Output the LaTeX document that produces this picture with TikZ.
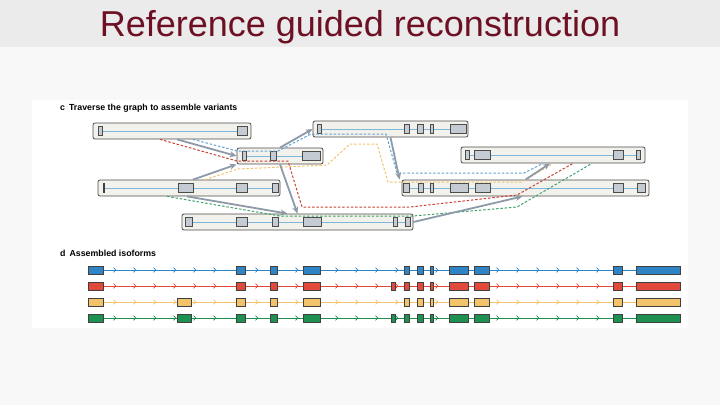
\documentclass[tikz,border=0pt]{standalone}
\usepackage{fontspec}
\setmainfont{Liberation Sans}
\usetikzlibrary{arrows.meta}
\definecolor{titlered}{HTML}{6E1023}
\definecolor{barbg}{HTML}{EBEBEB}
\definecolor{pagebg}{HTML}{F8F8F8}
\definecolor{boxbg}{HTML}{F3F1EC}
\definecolor{exgray}{HTML}{C4CBD3}
\definecolor{rail}{HTML}{7DB8DA}
\definecolor{pathgray}{HTML}{8E9AA7}
\definecolor{isoblue}{HTML}{2F84C5}
\definecolor{isored}{HTML}{E14A3A}
\definecolor{isoyel}{HTML}{F3C36C}
\definecolor{isogrn}{HTML}{1E9152}
\newcommand{\gexon}[3]{\draw[gex] ({#1},{#3-4.5}) rectangle ({#2},{#3+4.5});}
\newcommand{\iexon}[4]{\draw[iex, fill=#4] ({#1},{#3-4}) rectangle ({#2},{#3+4});}
\newcommand{\chev}[3]{\draw[#3, line width=0.7pt] ({#1-1.5},{#2-2.3}) -- ({#1+1},{#2}) -- ({#1-1.5},{#2+2.3});}

\begin{document}
\begin{tikzpicture}[x=1pt, y=-1pt,
  gbox/.style={draw=black!70, fill=boxbg, rounded corners=2pt, line width=0.8pt,
               minimum height=16pt, inner sep=0pt},
  gex/.style={draw=black!70, fill=exgray, line width=0.6pt},
  iex/.style={draw=black!75, line width=0.6pt},
  arr/.style={-{Stealth[length=7pt, width=6pt]}, line width=1.8pt, draw=pathgray},
  route/.style={dashed, dash pattern=on 2.5pt off 1.8pt, line width=1pt},
  lab/.style={font=\bfseries\fontsize{8.8}{10}\selectfont, anchor=base west, inner sep=0pt}
]
\useasboundingbox (0,0) rectangle (720,405);
\fill[barbg] (0,0) rectangle (720,47);
\fill[pagebg] (0,47) rectangle (720,405);
\fill[white] (32,100) rectangle (688,328);
\node[font=\fontsize{36}{40}\selectfont, text=titlered, anchor=base, inner sep=0pt]
  (ttl) at (360,36) {Reference guided reconstruction};

\node[lab] (labc) at (60,110) {c\hspace{4pt}Traverse the graph to assemble variants};
\node[lab] (labd) at (60,256) {d\hspace{4pt}Assembled isoforms};

\node[gbox, minimum width=158pt] (A) at (172,131) {};
\node[gbox, minimum width=155pt] (B) at (390.5,129) {};
\node[gbox, minimum width=86pt]  (C) at (280,156) {};
\node[gbox, minimum width=182pt] (D) at (189,188) {};
\node[gbox, minimum width=231pt] (E) at (297.5,222) {};
\node[gbox, minimum width=184pt] (F) at (553,155) {};
\node[gbox, minimum width=247pt] (G) at (525.5,188) {};
\foreach \b in {A,B,C,D,E,F,G}
  \draw[rail, line width=1pt] ([xshift=5pt]\b.west) -- ([xshift=-5pt]\b.east);

\gexon{98}{102}{131} \gexon{237}{247}{131}
\gexon{317}{321}{129} \gexon{404}{409}{129} \gexon{417}{423}{129} \gexon{430}{433}{129} \gexon{450}{466}{129}
\gexon{242}{246}{156} \gexon{270}{276}{156} \gexon{302}{320}{156}
\draw[black!75, line width=1.2pt] (104,183) -- (104,193);
\gexon{178}{193}{188} \gexon{236}{247}{188} \gexon{272}{278}{188}
\gexon{185}{192}{222} \gexon{236}{247}{222} \gexon{272}{278}{222} \gexon{303}{321}{222} \gexon{393}{397}{222} \gexon{405}{410}{222}
\gexon{465}{469}{155} \gexon{474}{490}{155} \gexon{613}{623}{155} \gexon{636}{640}{155}
\gexon{403}{409}{188} \gexon{418}{423}{188} \gexon{430}{433}{188} \gexon{450}{468}{188} \gexon{475}{490}{188} \gexon{613}{623}{188} \gexon{637}{645}{188}

\draw[route, draw=isoblue!75] ([xshift=21pt]A.south) -- (237,151) -- (278,151) -- (311,134) -- (386,134)
  -- (397,173) -- (524,173) -- ([xshift=-10pt]F.south);
\draw[route, draw=isoyel] ([xshift=16pt]D.north) -- (238,169) -- (327,165) -- (350,144) -- (377,144)
  -- (388,182) -- (522,182) -- (F.south);
\draw[route, draw=isored!90!black] ([xshift=-12pt]A.south) -- (237,161) -- (288,161) -- (302,207) -- (410,207)
  -- (517,195) -- ([xshift=20pt]F.south);
\draw[route, draw=isogrn!85] ([xshift=-22pt]D.south) -- (280,216) -- (413,216) -- (517,207)
  -- ([xshift=39pt]F.south);

\draw[arr] ([xshift=5pt]A.south) -- (C.west);
\draw[arr] ([xshift=4pt]D.north) -- (C.south west);
\draw[arr] (C.north) -- (B.west);
\draw[arr] (C.south) -- (E.north);
\draw[arr] ([xshift=-2pt]D.south) -- ([xshift=-10pt]E.north);
\draw[arr] (B.south) -- ([xshift=-2pt]G.north west);
\draw[arr] (G.north) -- ([xshift=-3pt]F.south);
\draw[arr] (E.east) -- ([xshift=-3pt]G.south);

\foreach \c/\y in {isoblue/270, isored/286, isoyel/302, isogrn/318} {
  \draw[\c, line width=1pt] (88,\y) -- (680,\y);
  \foreach \x in {115,135,155,175,195,215,257,297,337,357,377,397,437,498,518,538,558,578,598}
    \chev{\x}{\y}{\c};
  \foreach \s/\e in {88/103, 236/245, 270/277, 303/320, 404/409, 417/423, 430/433, 449/468, 474/489, 613/622, 636/680}
    \iexon{\s}{\e}{\y}{\c};
}
\iexon{391}{395}{286}{isored}
\iexon{177}{191}{302}{isoyel}
\iexon{177}{191}{318}{isogrn} \iexon{391}{395}{318}{isogrn}
\end{tikzpicture}
\end{document}
